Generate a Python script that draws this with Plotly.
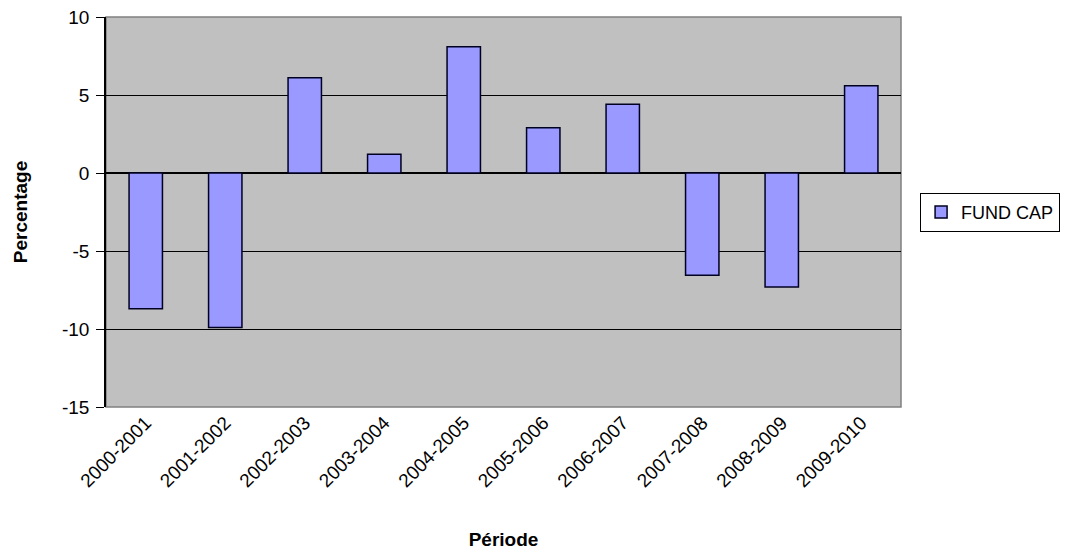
import plotly.graph_objects as go

periods = ["2000-2001", "2001-2002", "2002-2003", "2003-2004", "2004-2005",
           "2005-2006", "2006-2007", "2007-2008", "2008-2009", "2009-2010"]
fund_cap = [-8.7, -9.9, 6.1, 1.2, 8.1, 2.9, 4.4, -6.55, -7.3, 5.6]
y_ticks = [10, 5, 0, -5, -10, -15]
y_tick_labels = ["10", "5", "0", "-5", "-10", "-15"]

fig = go.Figure()
fig.add_trace(go.Bar(
    x=periods, y=fund_cap, name="FUND CAP",
    marker=dict(color="#9999FF", line=dict(color="#000022", width=1.5)),
    width=0.42,
))

fig.update_layout(
    width=1065, height=553,
    margin=dict(l=106, r=164, t=17, b=146, autoexpand=False),
    paper_bgcolor="white",
    plot_bgcolor="#C0C0C0",
    font=dict(family="Liberation Sans, Arial, sans-serif", size=18, color="black"),
    showlegend=True,
    legend=dict(
        x=1.024, y=0.549, xanchor="left", yanchor="top",
        bgcolor="white", bordercolor="black", borderwidth=1,
        font=dict(size=18, color="black"),
        itemwidth=30,
    ),
    xaxis=dict(
        tickangle=-45,
        tickfont=dict(size=19),
        showgrid=False,
        showline=False,
        ticks="",
        automargin=False,
        title=dict(text="<b>Période</b>", font=dict(size=19), standoff=42),
    ),
    yaxis=dict(
        range=[-15, 10],
        tickvals=y_ticks,
        ticktext=y_tick_labels,
        tickfont=dict(size=19),
        ticklabeloverflow="allow",
        ticklabelstandoff=3,
        showgrid=True, gridcolor="black", gridwidth=1.2,
        zeroline=True, zerolinecolor="black", zerolinewidth=2,
        showline=True, linecolor="black", linewidth=1.5,
        ticks="outside", ticklen=8, tickcolor="black",
        automargin=False,
        title=dict(text="<b>Percentage</b>", font=dict(size=19), standoff=29),
    ),
    shapes=[dict(type="rect", xref="paper", yref="paper", x0=0, x1=1, y0=0, y1=1,
                 line=dict(color="#808080", width=1.5), layer="below")],
)

fig.write_html("out.html", config={"displayModeBar": False},
               post_script="document.body.style.margin='0';document.body.style.overflow='hidden';")
